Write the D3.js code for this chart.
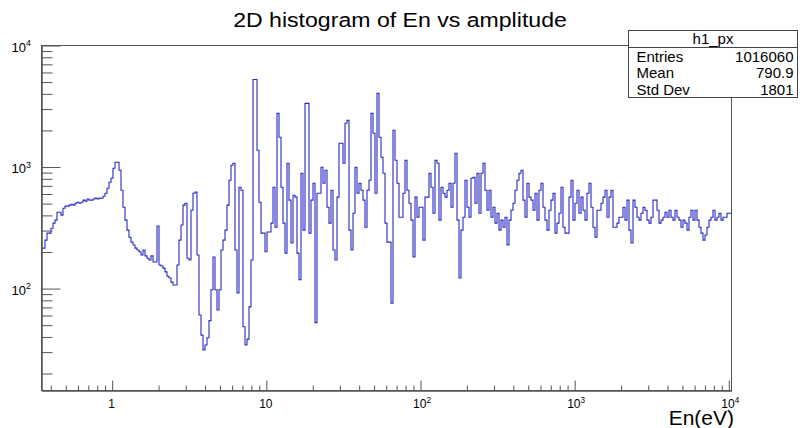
<!DOCTYPE html>
<html>
<head>
<meta charset="utf-8">
<script src="https://cdn.jsdelivr.net/npm/d3@7"></script>
<style>
  body { margin: 0; background: #fff; }
  text { font-family: "Liberation Sans", Arial, Helvetica, sans-serif; }
</style>
</head>
<body>
<script>
'use strict';

// chart texts
const title = "2D histogram of En vs amplitude";
const xTitle = "En(eV)";
const histName = "h1_px";
const statNames = ["Entries", "Mean", "Std Dev"];
const statValues = ["1016060", "790.9", "1801"];

// binning (equal log width bins) and axis ranges
const xLow = 0.348, xHigh = 10410, nBins = 345;
const yLow = 14.5, yHigh = 10000;
const xLabelTicks = [1, 10, 100, 1000, 10000];
const yLabelTicks = [100, 1000, 10000];

// bin contents
const countsLow = [
  213, 213, 248, 283, 283, 311, 342, 362, 421, 421,
  398, 454, 472, 472, 481, 490, 481, 499, 509, 499,
  509, 529, 519, 540, 529, 529, 540, 550, 540, 550,
  549, 570, 603, 663, 743, 800, 968, 1085, 1085, 933,
  639, 463, 362, 300, 262, 239, 226, 213, 206, 199,
  187, 206, 184, 176, 170, 184, 164, 164, 324, 155,
  152, 146, 136, 125, 121, 112, 106, 106, 155, 248,
  330, 481, 499, 176, 170, 437, 603, 616, 187, 60,
  41, 31, 34, 39, 54, 97, 180, 97, 66, 97,
  206, 248, 300, 481, 772, 1025, 1065, 206, 91, 676
];
const countsMid = [
  639, 48, 34, 38, 70, 170, 5200, 5200, 1362, 509,
  283, 283, 199, 289, 289, 342, 676, 317, 2740, 1740,
  676, 342, 194, 1065, 529, 235, 581, 560, 194, 117,
  881, 300, 3312, 3312, 283, 529, 729, 52, 603, 603,
  986, 729, 933, 463, 342, 639, 206, 170, 560, 1554,
  1554, 1065, 2270, 2404, 300, 206, 413, 986, 603, 729,
  639, 529, 317, 639, 772, 2740, 1878, 603, 4000, 1740,
  1192, 881, 342, 239, 239, 75, 1990, 1127, 729, 383,
  383, 603, 1127, 639, 499, 362, 180, 560, 383, 463,
  463, 248, 560, 560, 881, 676, 413, 1127, 1065, 362
];
const countsHigh = [
  676, 603, 560, 639, 729, 463, 729, 1286, 362, 121,
  300, 383, 772, 463, 383, 800, 817, 499, 881, 413,
  881, 1065, 639, 437, 639, 383, 463, 342, 413, 300,
  362, 317, 383, 226, 362, 437, 499, 639, 772, 881,
  933, 529, 383, 729, 560, 529, 437, 603, 362, 639,
  729, 463, 362, 300, 437, 529, 603, 283, 342, 413,
  676, 317, 283, 283, 560, 772, 362, 499, 639, 413,
  560, 437, 362, 603, 729, 463, 317, 262, 437, 437,
  499, 560, 639, 383, 560, 639, 317, 317, 342, 383,
  383, 463, 362, 529, 300, 235, 529, 463, 383, 362,
  413, 463, 437, 362, 342, 383, 529, 529, 437, 342,
  362, 383, 421, 383, 437, 383, 362, 437, 383, 362,
  317, 362, 342, 300, 383, 437, 362, 437, 362, 317,
  283, 248, 273, 317, 362, 383, 437, 362, 383, 413,
  362, 383, 383, 413, 413
];

const width = 800, height = 428;
const frame = { left: 41, right: 731, top: 45, bottom: 390 };
const lineColor = "#2828c4";
const axisColor = "#555";

window.onload = function() {
  const svg = d3.select("body").append("svg")
    .attr("width", width)
    .attr("height", height);

  const counts = countsLow.concat(countsMid, countsHigh);

  const x = d3.scaleLog().domain([xLow, xHigh]).range([frame.left, frame.right]);
  const y = d3.scaleLog().domain([yLow, yHigh]).range([frame.bottom, frame.top]);

  // bin edges, equal width in log(x)
  const edges = d3.range(nBins + 1).map(i => xLow * Math.pow(xHigh / xLow, i / nBins));

  // title (slightly wide, like the ROOT rendering)
  svg.append("text")
    .attr("transform", "translate(400, 27) scale(1.1, 1)")
    .attr("text-anchor", "middle")
    .style("font-size", "21px")
    .text(title);

  // frame
  svg.append("rect")
    .attr("x", frame.left + 0.5).attr("y", frame.top + 0.5)
    .attr("width", frame.right - frame.left).attr("height", frame.bottom - frame.top)
    .attr("fill", "none").attr("stroke", axisColor);

  // histogram outline
  const pts = [];
  counts.forEach((c, i) => {
    pts.push([edges[i], c]);
    pts.push([edges[i + 1], c]);
  });
  const line = d3.line()
    .x(d => x(d[0]))
    .y(d => y(Math.max(d[1], yLow)));
  svg.append("path")
    .attr("d", line(pts))
    .attr("fill", "none")
    .attr("stroke", lineColor)
    .attr("stroke-width", 1.1);

  // x axis: ticks point up into the frame
  const xMinor = x.ticks().filter(v => xLabelTicks.indexOf(v) < 0);
  const xAxisG = svg.append("g").attr("transform", `translate(0.5, ${frame.bottom + 0.5})`);
  xAxisG.append("g").call(d3.axisBottom(x).tickValues(xMinor).tickSize(-5).tickSizeOuter(0).tickFormat(""));
  xAxisG.append("g").call(d3.axisBottom(x).tickValues(xLabelTicks).tickSize(-10).tickSizeOuter(0).tickFormat(""));

  // y axis: ticks point right into the frame
  const yMinor = y.ticks().filter(v => yLabelTicks.indexOf(v) < 0);
  const yAxisG = svg.append("g").attr("transform", `translate(${frame.left + 0.5}, 0.5)`);
  yAxisG.append("g").call(d3.axisLeft(y).tickValues(yMinor).tickSize(-11).tickSizeOuter(0).tickFormat(""));
  yAxisG.append("g").call(d3.axisLeft(y).tickValues(yLabelTicks).tickSize(-19).tickSizeOuter(0).tickFormat(""));
  svg.selectAll(".domain, .tick line").attr("stroke", axisColor);

  // power-of-ten label helper
  function powLabel(g, v, size) {
    const e = Math.round(Math.log10(v));
    if (e <= 1) { g.text(String(v)); return; }
    g.append("tspan").text("10");
    g.append("tspan").attr("dy", -size * 0.42).style("font-size", (size * 0.68) + "px").text(e);
  }

  xLabelTicks.forEach(v => {
    const t = svg.append("text")
      .attr("x", x(v) + (v >= 100 ? 2 : 0)).attr("y", 408)
      .attr("text-anchor", "middle")
      .style("font-size", "12px");
    powLabel(t, v, 12);
  });

  yLabelTicks.forEach(v => {
    const t = svg.append("text")
      .attr("x", 31).attr("y", y(v) + 6.5)
      .attr("text-anchor", "end")
      .style("font-size", "13px");
    powLabel(t, v, 13);
  });

  // x axis title
  svg.append("text")
    .attr("x", 734).attr("y", 425)
    .attr("text-anchor", "end")
    .style("font-size", "21px")
    .text(xTitle);

  // stats box
  const box = { x: 628.5, y: 30.5, w: 169, h: 67, head: 17 };
  const sb = svg.append("g");
  sb.append("rect")
    .attr("x", box.x).attr("y", box.y).attr("width", box.w).attr("height", box.h)
    .attr("fill", "#fff").attr("stroke", "#444");
  sb.append("line")
    .attr("x1", box.x).attr("x2", box.x + box.w)
    .attr("y1", box.y + box.head).attr("y2", box.y + box.head)
    .attr("stroke", "#444");
  sb.append("text")
    .attr("x", box.x + box.w / 2).attr("y", box.y + 13)
    .attr("text-anchor", "middle")
    .style("font-size", "15px")
    .text(histName);
  statNames.forEach((n, i) => {
    const yy = box.y + 31 + i * 16.8;
    sb.append("text").attr("x", box.x + 8).attr("y", yy)
      .style("font-size", "15px").text(n);
    sb.append("text").attr("x", box.x + box.w - 4).attr("y", yy)
      .attr("text-anchor", "end")
      .style("font-size", "15px").text(statValues[i]);
  });
};
</script>
</body>
</html>
